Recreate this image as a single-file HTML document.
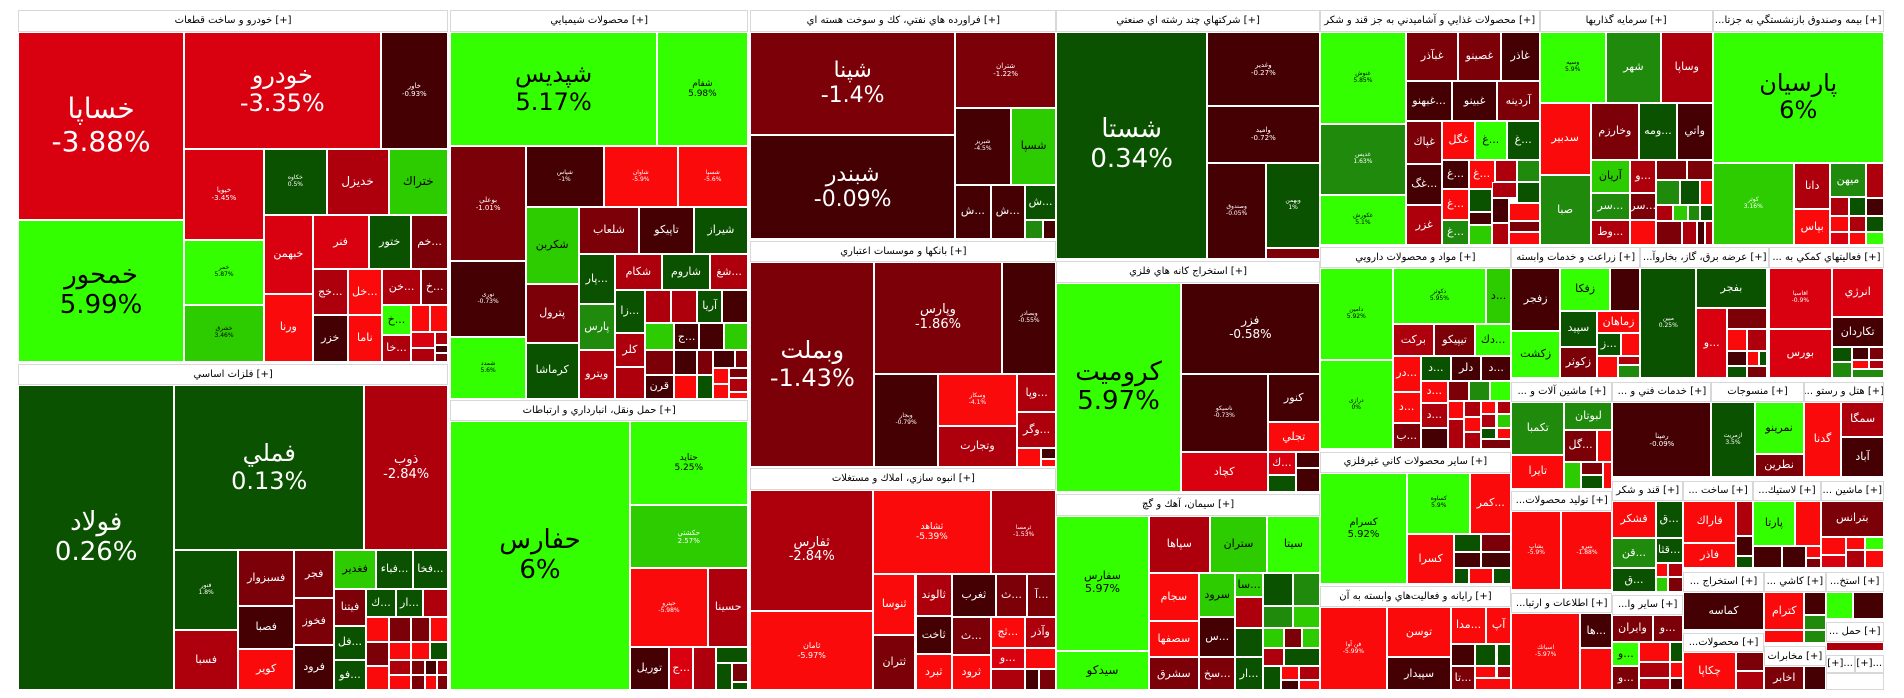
<!DOCTYPE html>
<html><head><meta charset="utf-8">
<style>
html,body{margin:0;padding:0;background:#fff;}
body{width:1904px;height:698px;position:relative;overflow:hidden;font-family:"DejaVu Sans","Liberation Sans",sans-serif;}
.c{position:absolute;box-sizing:border-box;border:1px solid #fff;left:calc(var(--a)*0.6071px);top:calc(var(--b)*0.4503px);width:calc((var(--c) - var(--a))*0.6071px);height:calc((var(--d) - var(--b))*0.4503px);display:flex;align-items:center;justify-content:center;text-align:center;color:#fff;overflow:hidden;font-size:11px;line-height:1.15;white-space:nowrap}
.h{background:#fff;border:1px solid #d8d8d8;color:#000;font-size:10px}
.r1{background:#fa0a0a}.r2{background:#d9000f}.r3{background:#ad000c}.r4{background:#7c0008}.r5{background:#450004}
.g1{background:#33ff00;color:#000}.g2{background:#2ccc00;color:#000}.g3{background:#1f8a0c}.g4{background:#0b5200}
.s{font-size:7px}.t{font-size:6px}
</style></head><body>
<!-- Column 1 -->
<div class="c h" style="--a:30;--b:22;--c:738;--d:70">خودرو و ساخت قطعات [+]</div>
<div class="c r2" style="--a:30;--b:70;--c:303;--d:488;font-size:28px">خساپا<br>-3.88%</div>
<div class="c g1" style="--a:30;--b:488;--c:303;--d:803;font-size:26px">خمحور<br>5.99%</div>
<div class="c r2" style="--a:303;--b:70;--c:627;--d:330;font-size:24px">خودرو<br>-3.35%</div>
<div class="c r5 s" style="--a:627;--b:70;--c:738;--d:330">خاور<br>-0.93%</div>
<div class="c r2 s" style="--a:303;--b:330;--c:435;--d:532">خپویا<br>-3.45%</div>
<div class="c g1 t" style="--a:303;--b:532;--c:435;--d:677">خمر<br>5.87%</div>
<div class="c g2 t" style="--a:303;--b:677;--c:435;--d:803">خشرق<br>3.46%</div>
<div class="c g4 t" style="--a:435;--b:330;--c:538;--d:478">خکاوه<br>0.5%</div>
<div class="c r3" style="--a:538;--b:330;--c:640;--d:478;font-size:12px">خديزل</div>
<div class="c g2" style="--a:640;--b:330;--c:738;--d:478;font-size:12px">ختراك</div>
<div class="c r2" style="--a:435;--b:478;--c:515;--d:652">خبهمن</div>
<div class="c r1" style="--a:435;--b:652;--c:515;--d:803">ورنا</div>
<div class="c r2" style="--a:515;--b:478;--c:607;--d:597">فنر</div>
<div class="c g4" style="--a:607;--b:478;--c:677;--d:597">ختور</div>
<div class="c r4" style="--a:677;--b:478;--c:738;--d:597">خم...</div>
<div class="c r3" style="--a:515;--b:597;--c:573;--d:700">خج...</div>
<div class="c r1" style="--a:573;--b:597;--c:629;--d:700">خل...</div>
<div class="c r3" style="--a:629;--b:597;--c:694;--d:678">خن...</div>
<div class="c r4" style="--a:694;--b:597;--c:738;--d:678">خ...</div>
<div class="c r5" style="--a:515;--b:700;--c:573;--d:803">خزر</div>
<div class="c r1" style="--a:573;--b:700;--c:629;--d:803">ناما</div>
<div class="c g1" style="--a:629;--b:678;--c:677;--d:745">خ...</div>
<div class="c r3" style="--a:629;--b:745;--c:677;--d:803">خا...</div>
<div class="c r1" style="--a:677;--b:678;--c:708;--d:737"></div>
<div class="c r1" style="--a:708;--b:678;--c:738;--d:737"></div>
<div class="c r2" style="--a:677;--b:737;--c:716;--d:773"></div>
<div class="c r3" style="--a:716;--b:737;--c:738;--d:767"></div>
<div class="c r5" style="--a:716;--b:767;--c:738;--d:785"></div>
<div class="c r3" style="--a:677;--b:773;--c:716;--d:803"></div>
<div class="c r4" style="--a:716;--b:785;--c:738;--d:803"></div>

<div class="c h" style="--a:30;--b:808;--c:738;--d:855">فلزات اساسي [+]</div>
<div class="c g4" style="--a:30;--b:855;--c:287;--d:1533;font-size:26px">فولاد<br>0.26%</div>
<div class="c g4" style="--a:287;--b:855;--c:600;--d:1222;font-size:24px">فملي<br>0.13%</div>
<div class="c r3" style="--a:600;--b:855;--c:738;--d:1222;font-size:13px">ذوب<br>-2.84%</div>
<div class="c g4 t" style="--a:287;--b:1222;--c:392;--d:1398">فنور<br>1.8%</div>
<div class="c r3" style="--a:287;--b:1398;--c:392;--d:1533">فسبا</div>
<div class="c r4" style="--a:392;--b:1222;--c:485;--d:1345">فسبزوار</div>
<div class="c r5" style="--a:392;--b:1345;--c:485;--d:1442">فصبا</div>
<div class="c r1" style="--a:392;--b:1442;--c:485;--d:1533">كوير</div>
<div class="c r4" style="--a:485;--b:1222;--c:550;--d:1328">فجر</div>
<div class="c r4" style="--a:485;--b:1328;--c:550;--d:1432">فخوز</div>
<div class="c r5" style="--a:485;--b:1432;--c:550;--d:1533">فرود</div>
<div class="c g2" style="--a:550;--b:1222;--c:620;--d:1308">فغدير</div>
<div class="c g4" style="--a:620;--b:1222;--c:680;--d:1308">فباء...</div>
<div class="c g4" style="--a:680;--b:1222;--c:738;--d:1308">فخا...</div>
<div class="c r4" style="--a:550;--b:1308;--c:603;--d:1390">فيتنا</div>
<div class="c g4" style="--a:603;--b:1308;--c:652;--d:1370">ك...</div>
<div class="c g4" style="--a:652;--b:1308;--c:697;--d:1370">ار...</div>
<div class="c r3" style="--a:697;--b:1308;--c:738;--d:1370"></div>
<div class="c g4" style="--a:550;--b:1390;--c:603;--d:1465">فل...</div>
<div class="c g4" style="--a:550;--b:1465;--c:603;--d:1533">فو...</div>
<div class="c r1" style="--a:603;--b:1370;--c:640;--d:1425"></div>
<div class="c r4" style="--a:640;--b:1370;--c:677;--d:1425"></div>
<div class="c r4" style="--a:677;--b:1370;--c:708;--d:1425"></div>
<div class="c r1" style="--a:708;--b:1370;--c:738;--d:1425"></div>
<div class="c r4" style="--a:603;--b:1425;--c:640;--d:1480"></div>
<div class="c r1" style="--a:640;--b:1425;--c:677;--d:1465"></div>
<div class="c r1" style="--a:677;--b:1425;--c:708;--d:1465"></div>
<div class="c g4" style="--a:708;--b:1425;--c:738;--d:1465"></div>
<div class="c r3" style="--a:640;--b:1465;--c:677;--d:1500"></div>
<div class="c r4" style="--a:677;--b:1465;--c:700;--d:1500"></div>
<div class="c r5" style="--a:700;--b:1465;--c:720;--d:1500"></div>
<div class="c r3" style="--a:720;--b:1465;--c:738;--d:1500"></div>
<div class="c r1" style="--a:603;--b:1480;--c:640;--d:1533"></div>
<div class="c r1" style="--a:640;--b:1500;--c:677;--d:1533"></div>
<div class="c r4" style="--a:677;--b:1500;--c:700;--d:1533"></div>
<div class="c r1" style="--a:700;--b:1500;--c:720;--d:1533"></div>
<div class="c r4" style="--a:720;--b:1500;--c:738;--d:1533"></div>

<!-- Column 2 -->
<div class="c h" style="--a:742;--b:22;--c:1232;--d:70">محصولات شيميايي [+]</div>
<div class="c g1" style="--a:742;--b:70;--c:1082;--d:325;font-size:24px">شپديس<br>5.17%</div>
<div class="c g1" style="--a:1082;--b:70;--c:1232;--d:325;font-size:9px">شفام<br>5.98%</div>
<div class="c r4 s" style="--a:742;--b:325;--c:866;--d:580">بوعلي<br>-1.01%</div>
<div class="c r5 t" style="--a:742;--b:580;--c:866;--d:748">نوری<br>-0.73%</div>
<div class="c g1 t" style="--a:742;--b:748;--c:866;--d:885">شمدد<br>5.6%</div>
<div class="c r5 t" style="--a:866;--b:325;--c:995;--d:460">شپاس<br>-1%</div>
<div class="c r1 t" style="--a:995;--b:325;--c:1116;--d:460">شاوان<br>-5.9%</div>
<div class="c r1 t" style="--a:1116;--b:325;--c:1232;--d:460">شسپا<br>-5.6%</div>
<div class="c g2" style="--a:866;--b:460;--c:953;--d:630">شكربن</div>
<div class="c r4" style="--a:953;--b:460;--c:1053;--d:565">شلعاب</div>
<div class="c r5" style="--a:1053;--b:460;--c:1143;--d:565">تاپيكو</div>
<div class="c g4" style="--a:1143;--b:460;--c:1232;--d:565">شيراز</div>
<div class="c r4" style="--a:866;--b:630;--c:953;--d:762">پترول</div>
<div class="c g4" style="--a:866;--b:762;--c:953;--d:885">كرماشا</div>
<div class="c g4" style="--a:953;--b:565;--c:1013;--d:675">پار...</div>
<div class="c g3" style="--a:953;--b:675;--c:1013;--d:778">پارس</div>
<div class="c r3" style="--a:953;--b:778;--c:1013;--d:885">ويترو</div>
<div class="c r3" style="--a:1013;--b:565;--c:1090;--d:643">شكام</div>
<div class="c g4" style="--a:1090;--b:565;--c:1170;--d:643">شاروم</div>
<div class="c r3" style="--a:1170;--b:565;--c:1232;--d:643">شغ...</div>
<div class="c g4" style="--a:1013;--b:643;--c:1062;--d:740">زا...</div>
<div class="c r3" style="--a:1013;--b:740;--c:1062;--d:815">كلر</div>
<div class="c r3" style="--a:1013;--b:815;--c:1062;--d:885"></div>
<div class="c r3" style="--a:1062;--b:643;--c:1105;--d:718"></div>
<div class="c r3" style="--a:1105;--b:643;--c:1148;--d:718"></div>
<div class="c g4" style="--a:1148;--b:643;--c:1190;--d:718">آريا</div>
<div class="c r5" style="--a:1190;--b:643;--c:1232;--d:718"></div>
<div class="c g2" style="--a:1062;--b:718;--c:1110;--d:778"></div>
<div class="c r5" style="--a:1110;--b:718;--c:1152;--d:778">ج...</div>
<div class="c r5" style="--a:1152;--b:718;--c:1192;--d:778"></div>
<div class="c g2" style="--a:1192;--b:718;--c:1232;--d:778"></div>
<div class="c r4" style="--a:1062;--b:778;--c:1110;--d:832"></div>
<div class="c r5" style="--a:1110;--b:778;--c:1148;--d:832"></div>
<div class="c r4" style="--a:1148;--b:778;--c:1175;--d:832"></div>
<div class="c r5" style="--a:1175;--b:778;--c:1210;--d:818"></div>
<div class="c r4" style="--a:1210;--b:778;--c:1232;--d:818"></div>
<div class="c r5" style="--a:1062;--b:832;--c:1110;--d:885">قرن</div>
<div class="c r1" style="--a:1110;--b:832;--c:1148;--d:885"></div>
<div class="c g4" style="--a:1148;--b:832;--c:1175;--d:885"></div>
<div class="c r1" style="--a:1175;--b:818;--c:1200;--d:852"></div>
<div class="c r4" style="--a:1200;--b:818;--c:1232;--d:840"></div>
<div class="c r3" style="--a:1200;--b:840;--c:1232;--d:870"></div>
<div class="c r1" style="--a:1175;--b:852;--c:1200;--d:885"></div>
<div class="c r1" style="--a:1200;--b:870;--c:1232;--d:885"></div>

<div class="c h" style="--a:742;--b:888;--c:1232;--d:935">حمل ونقل، انبارداري و ارتباطات [+]</div>
<div class="c g1" style="--a:742;--b:935;--c:1037;--d:1533;font-size:26px">حفارس<br>6%</div>
<div class="c g1" style="--a:1037;--b:935;--c:1232;--d:1122;font-size:9px">حتايد<br>5.25%</div>
<div class="c g2 s" style="--a:1037;--b:1122;--c:1232;--d:1262;color:#fff">حكشتي<br>2.57%</div>
<div class="c r1 t" style="--a:1037;--b:1262;--c:1167;--d:1437">حپترو<br>-5.98%</div>
<div class="c r3" style="--a:1167;--b:1262;--c:1232;--d:1437">حسينا</div>
<div class="c r5" style="--a:1037;--b:1437;--c:1102;--d:1533">توريل</div>
<div class="c r2" style="--a:1102;--b:1437;--c:1142;--d:1533">ج...</div>
<div class="c r3" style="--a:1142;--b:1437;--c:1180;--d:1533"></div>
<div class="c g4" style="--a:1180;--b:1437;--c:1232;--d:1472"></div>
<div class="c g4" style="--a:1180;--b:1472;--c:1205;--d:1533"></div>
<div class="c r4" style="--a:1205;--b:1472;--c:1232;--d:1515"></div>
<div class="c g4" style="--a:1205;--b:1515;--c:1232;--d:1533"></div>

<!-- Column 3 -->
<div class="c h" style="--a:1236;--b:22;--c:1740;--d:70">فراورده هاي نفتي، كك و سوخت هسته اي [+]</div>
<div class="c r4" style="--a:1236;--b:70;--c:1573;--d:300;font-size:22px">شپنا<br>-1.4%</div>
<div class="c r5" style="--a:1236;--b:300;--c:1573;--d:530;font-size:22px">شبندر<br>-0.09%</div>
<div class="c r4 s" style="--a:1573;--b:70;--c:1740;--d:240">شتران<br>-1.22%</div>
<div class="c r5 t" style="--a:1573;--b:240;--c:1665;--d:410">شبريز<br>-4.5%</div>
<div class="c g2" style="--a:1665;--b:240;--c:1740;--d:410">شسپا</div>
<div class="c r5" style="--a:1573;--b:410;--c:1632;--d:530">ش...</div>
<div class="c r5" style="--a:1632;--b:410;--c:1688;--d:530">ش...</div>
<div class="c g4" style="--a:1688;--b:410;--c:1740;--d:488">ش...</div>
<div class="c g3" style="--a:1688;--b:488;--c:1718;--d:530"></div>
<div class="c r5" style="--a:1718;--b:488;--c:1740;--d:530"></div>
<div class="c h" style="--a:1236;--b:535;--c:1740;--d:582">بانكها و موسسات اعتباري [+]</div>
<div class="c r4" style="--a:1236;--b:582;--c:1440;--d:1037;font-size:24px">وبملت<br>-1.43%</div>
<div class="c r4" style="--a:1440;--b:582;--c:1650;--d:830;font-size:13px">وپارس<br>-1.86%</div>
<div class="c r5 t" style="--a:1650;--b:582;--c:1740;--d:830">وبصادر<br>-0.55%</div>
<div class="c r5 t" style="--a:1440;--b:830;--c:1545;--d:1037">وبجار<br>-0.79%</div>
<div class="c r1 t" style="--a:1545;--b:830;--c:1675;--d:947">وسكار<br>-4.1%</div>
<div class="c r3" style="--a:1675;--b:830;--c:1740;--d:915">وپا...</div>
<div class="c r3" style="--a:1675;--b:915;--c:1740;--d:995">وگر...</div>
<div class="c r3" style="--a:1545;--b:947;--c:1675;--d:1037">وتجارت</div>
<div class="c r1" style="--a:1675;--b:995;--c:1715;--d:1037"></div>
<div class="c r5" style="--a:1715;--b:995;--c:1740;--d:1020"></div>
<div class="c r1" style="--a:1715;--b:1020;--c:1740;--d:1037"></div>
<div class="c h" style="--a:1236;--b:1040;--c:1740;--d:1088">انبوه سازي، املاك و مستغلات [+]</div>
<div class="c r3" style="--a:1236;--b:1088;--c:1438;--d:1357;font-size:13px">ثفارس<br>-2.84%</div>
<div class="c r1 s" style="--a:1236;--b:1357;--c:1438;--d:1533;font-size:8px">ثامان<br>-5.97%</div>
<div class="c r1" style="--a:1438;--b:1088;--c:1632;--d:1275;font-size:9px">ثشاهد<br>-5.39%</div>
<div class="c r3 t" style="--a:1632;--b:1088;--c:1740;--d:1275">ثرمسا<br>-1.53%</div>
<div class="c r1" style="--a:1438;--b:1275;--c:1508;--d:1410">ثنوسا</div>
<div class="c r3" style="--a:1508;--b:1275;--c:1568;--d:1368">ثالوند</div>
<div class="c r5" style="--a:1508;--b:1368;--c:1568;--d:1452">ثاخت</div>
<div class="c r4" style="--a:1438;--b:1410;--c:1508;--d:1533">ثتران</div>
<div class="c r1" style="--a:1508;--b:1452;--c:1568;--d:1533">ثبرد</div>
<div class="c r5" style="--a:1568;--b:1275;--c:1640;--d:1370">ثغرب</div>
<div class="c r4" style="--a:1640;--b:1275;--c:1692;--d:1370">ث...</div>
<div class="c r4" style="--a:1692;--b:1275;--c:1740;--d:1370">آ...</div>
<div class="c r4" style="--a:1568;--b:1370;--c:1632;--d:1455">ث...</div>
<div class="c r1" style="--a:1632;--b:1370;--c:1688;--d:1440">ثج...</div>
<div class="c r3" style="--a:1688;--b:1370;--c:1740;--d:1440">وآذر</div>
<div class="c r1" style="--a:1568;--b:1455;--c:1632;--d:1533">ثرود</div>
<div class="c r2" style="--a:1632;--b:1440;--c:1688;--d:1485">و...</div>
<div class="c r1" style="--a:1688;--b:1440;--c:1740;--d:1485"></div>
<div class="c r3" style="--a:1632;--b:1485;--c:1688;--d:1533"></div>
<div class="c r5" style="--a:1688;--b:1485;--c:1712;--d:1533"></div>
<div class="c r4" style="--a:1712;--b:1485;--c:1740;--d:1533"></div>

<!-- Column 4 -->
<div class="c h" style="--a:1740;--b:22;--c:2174;--d:70">شركتهاي چند رشته اي صنعتي [+]</div>
<div class="c g4" style="--a:1740;--b:70;--c:1988;--d:575;font-size:26px">شستا<br>0.34%</div>
<div class="c r5 s" style="--a:1988;--b:70;--c:2174;--d:235">وغدير<br>-0.27%</div>
<div class="c r5 s" style="--a:1988;--b:235;--c:2174;--d:362">واميد<br>-0.72%</div>
<div class="c r5 t" style="--a:1988;--b:362;--c:2086;--d:575">وصندوق<br>-0.05%</div>
<div class="c g4 t" style="--a:2086;--b:362;--c:2174;--d:550">وبهمن<br>1%</div>
<div class="c r4" style="--a:2086;--b:550;--c:2174;--d:575"></div>
<div class="c h" style="--a:1740;--b:580;--c:2174;--d:628">استخراج كانه هاي فلزي [+]</div>
<div class="c g1" style="--a:1740;--b:628;--c:1945;--d:1093;font-size:26px">كروميت<br>5.97%</div>
<div class="c r5" style="--a:1945;--b:628;--c:2174;--d:830;font-size:12px">فزر<br>-0.58%</div>
<div class="c r5 t" style="--a:1945;--b:830;--c:2088;--d:1003">ناسيكو<br>-0.73%</div>
<div class="c r5" style="--a:2088;--b:830;--c:2174;--d:938">كنور</div>
<div class="c r1" style="--a:2088;--b:938;--c:2174;--d:1003">تجلي</div>
<div class="c r2" style="--a:1945;--b:1003;--c:2088;--d:1093">كچاد</div>
<div class="c r2" style="--a:2088;--b:1003;--c:2135;--d:1055">ك...</div>
<div class="c r5" style="--a:2135;--b:1003;--c:2174;--d:1040"></div>
<div class="c g4" style="--a:2088;--b:1055;--c:2135;--d:1093"></div>
<div class="c r5" style="--a:2135;--b:1040;--c:2174;--d:1093"></div>
<div class="c h" style="--a:1740;--b:1097;--c:2174;--d:1145">سيمان، آهك و گچ [+]</div>
<div class="c g1" style="--a:1740;--b:1145;--c:1892;--d:1445;font-size:11px">سفارس<br>5.97%</div>
<div class="c g1" style="--a:1740;--b:1445;--c:1892;--d:1533;font-size:12px">سيدكو</div>
<div class="c r3" style="--a:1892;--b:1145;--c:1993;--d:1273">سپاها</div>
<div class="c g2" style="--a:1993;--b:1145;--c:2087;--d:1273">ستران</div>
<div class="c g1" style="--a:2087;--b:1145;--c:2174;--d:1273">سيتا</div>
<div class="c r1" style="--a:1892;--b:1273;--c:1975;--d:1378">سجام</div>
<div class="c r1" style="--a:1892;--b:1378;--c:1975;--d:1460">سصفها</div>
<div class="c r4" style="--a:1892;--b:1460;--c:1975;--d:1533">سشرق</div>
<div class="c g2" style="--a:1975;--b:1273;--c:2035;--d:1370">سرود</div>
<div class="c g2" style="--a:2035;--b:1273;--c:2080;--d:1325">سا...</div>
<div class="c g4" style="--a:2080;--b:1273;--c:2130;--d:1345"></div>
<div class="c g3" style="--a:2130;--b:1273;--c:2174;--d:1345"></div>
<div class="c r5" style="--a:1975;--b:1370;--c:2035;--d:1460">س...</div>
<div class="c r4" style="--a:1975;--b:1460;--c:2035;--d:1533">سخ...</div>
<div class="c r3" style="--a:2035;--b:1325;--c:2080;--d:1395"></div>
<div class="c g4" style="--a:2035;--b:1395;--c:2080;--d:1460"></div>
<div class="c g4" style="--a:2035;--b:1460;--c:2080;--d:1533">ار...</div>
<div class="c g3" style="--a:2080;--b:1345;--c:2130;--d:1395"></div>
<div class="c g2" style="--a:2130;--b:1345;--c:2174;--d:1395"></div>
<div class="c g2" style="--a:2080;--b:1395;--c:2115;--d:1440"></div>
<div class="c r4" style="--a:2115;--b:1395;--c:2145;--d:1440"></div>
<div class="c g2" style="--a:2145;--b:1395;--c:2174;--d:1440"></div>
<div class="c r3" style="--a:2080;--b:1440;--c:2115;--d:1480"></div>
<div class="c g4" style="--a:2115;--b:1440;--c:2174;--d:1480"></div>
<div class="c g4" style="--a:2080;--b:1480;--c:2110;--d:1533"></div>
<div class="c r1" style="--a:2110;--b:1480;--c:2140;--d:1510"></div>
<div class="c r3" style="--a:2140;--b:1480;--c:2174;--d:1510"></div>
<div class="c r5" style="--a:2110;--b:1510;--c:2140;--d:1533"></div>
<div class="c r1" style="--a:2140;--b:1510;--c:2174;--d:1533"></div>

<!-- Column 5 food -->
<div class="c h" style="--a:2174;--b:22;--c:2536;--d:70">محصولات غذايي و آشاميدني به جز قند و شكر [+]</div>
<div class="c g1 t" style="--a:2174;--b:70;--c:2316;--d:275">غنوش<br>5.85%</div>
<div class="c g3 t" style="--a:2174;--b:275;--c:2316;--d:432">غدیس<br>1.63%</div>
<div class="c g1 t" style="--a:2174;--b:432;--c:2316;--d:545">غکورش<br>5.1%</div>
<div class="c r4" style="--a:2316;--b:70;--c:2402;--d:180">غبآذر</div>
<div class="c r4" style="--a:2402;--b:70;--c:2472;--d:180">غصينو</div>
<div class="c r5" style="--a:2472;--b:70;--c:2536;--d:180">غاذر</div>
<div class="c r5" style="--a:2316;--b:180;--c:2392;--d:268">غبهنو...</div>
<div class="c r5" style="--a:2392;--b:180;--c:2466;--d:268">غبينو</div>
<div class="c r4" style="--a:2466;--b:180;--c:2536;--d:268">آردينه</div>
<div class="c r4" style="--a:2316;--b:268;--c:2376;--d:365">غپاك</div>
<div class="c r1" style="--a:2376;--b:268;--c:2429;--d:355">غگل</div>
<div class="c g1" style="--a:2429;--b:268;--c:2482;--d:355">غ...</div>
<div class="c g4" style="--a:2482;--b:268;--c:2536;--d:355">غ...</div>
<div class="c r5" style="--a:2316;--b:365;--c:2376;--d:455">غگ...</div>
<div class="c r3" style="--a:2316;--b:455;--c:2376;--d:545">غزر</div>
<div class="c r5" style="--a:2376;--b:355;--c:2419;--d:420">غ...</div>
<div class="c r1" style="--a:2419;--b:355;--c:2462;--d:420">غ...</div>
<div class="c r3" style="--a:2462;--b:355;--c:2498;--d:405"></div>
<div class="c g3" style="--a:2498;--b:355;--c:2536;--d:405"></div>
<div class="c r1" style="--a:2376;--b:420;--c:2419;--d:488">غ...</div>
<div class="c g3" style="--a:2376;--b:488;--c:2419;--d:545">غ...</div>
<div class="c g4" style="--a:2419;--b:420;--c:2458;--d:470"></div>
<div class="c r3" style="--a:2458;--b:405;--c:2498;--d:440"></div>
<div class="c g4" style="--a:2498;--b:405;--c:2536;--d:450"></div>
<div class="c r5" style="--a:2458;--b:440;--c:2485;--d:495"></div>
<div class="c r1" style="--a:2485;--b:450;--c:2536;--d:490"></div>
<div class="c r5" style="--a:2419;--b:470;--c:2458;--d:500"></div>
<div class="c g2" style="--a:2419;--b:500;--c:2458;--d:545"></div>
<div class="c r3" style="--a:2458;--b:495;--c:2485;--d:545"></div>
<div class="c r4" style="--a:2485;--b:490;--c:2536;--d:515"></div>
<div class="c r1" style="--a:2485;--b:515;--c:2536;--d:545"></div>

<!-- Column 6 -->
<div class="c h" style="--a:2536;--b:22;--c:2821;--d:70">سرمايه گذاريها [+]</div>
<div class="c g1 t" style="--a:2536;--b:70;--c:2645;--d:228">وسپه<br>5.9%</div>
<div class="c g3" style="--a:2645;--b:70;--c:2736;--d:228">شهر</div>
<div class="c r3" style="--a:2736;--b:70;--c:2821;--d:228">وساپا</div>
<div class="c r1" style="--a:2536;--b:228;--c:2620;--d:388">سدبير</div>
<div class="c g3" style="--a:2536;--b:388;--c:2620;--d:545">صبا</div>
<div class="c r4" style="--a:2620;--b:228;--c:2700;--d:355">وخارزم</div>
<div class="c g4" style="--a:2700;--b:228;--c:2762;--d:355">ومه...</div>
<div class="c r5" style="--a:2762;--b:228;--c:2821;--d:355">واتي</div>
<div class="c g2" style="--a:2620;--b:355;--c:2685;--d:428">آريان</div>
<div class="c g3" style="--a:2620;--b:428;--c:2685;--d:488">سر...</div>
<div class="c r3" style="--a:2620;--b:488;--c:2685;--d:545">وط...</div>
<div class="c r3" style="--a:2685;--b:355;--c:2728;--d:428">و...</div>
<div class="c r4" style="--a:2685;--b:428;--c:2728;--d:488">سر...</div>
<div class="c r1" style="--a:2685;--b:488;--c:2728;--d:545"></div>
<div class="c r4" style="--a:2728;--b:355;--c:2778;--d:400"></div>
<div class="c r4" style="--a:2778;--b:355;--c:2821;--d:400"></div>
<div class="c g3" style="--a:2728;--b:400;--c:2768;--d:455"></div>
<div class="c g4" style="--a:2768;--b:400;--c:2800;--d:455"></div>
<div class="c r1" style="--a:2800;--b:400;--c:2821;--d:455"></div>
<div class="c r3" style="--a:2728;--b:455;--c:2755;--d:490"></div>
<div class="c g2" style="--a:2755;--b:455;--c:2780;--d:490"></div>
<div class="c g3" style="--a:2780;--b:455;--c:2800;--d:490"></div>
<div class="c g4" style="--a:2800;--b:455;--c:2821;--d:490"></div>
<div class="c r4" style="--a:2728;--b:490;--c:2770;--d:545"></div>
<div class="c r3" style="--a:2770;--b:490;--c:2795;--d:545"></div>
<div class="c r5" style="--a:2795;--b:490;--c:2808;--d:545"></div>
<div class="c r3" style="--a:2808;--b:490;--c:2821;--d:545"></div>

<!-- Column 7 -->
<div class="c h" style="--a:2821;--b:22;--c:3103;--d:70">...بيمه وصندوق بازنشستگي به جزتا [+]</div>
<div class="c g1" style="--a:2821;--b:70;--c:3103;--d:362;font-size:24px">پارسيان<br>6%</div>
<div class="c g2 t" style="--a:2821;--b:362;--c:2955;--d:545;color:#fff">كوثر<br>3.16%</div>
<div class="c r3" style="--a:2955;--b:362;--c:3015;--d:465">دانا</div>
<div class="c g3" style="--a:3015;--b:362;--c:3073;--d:438">ميهن</div>
<div class="c r3" style="--a:3073;--b:362;--c:3103;--d:440"></div>
<div class="c r1" style="--a:2955;--b:465;--c:3015;--d:545">بپاس</div>
<div class="c r3" style="--a:3015;--b:438;--c:3045;--d:480"></div>
<div class="c g4" style="--a:3045;--b:438;--c:3073;--d:480"></div>
<div class="c r5" style="--a:3073;--b:440;--c:3103;--d:480"></div>
<div class="c r1" style="--a:3015;--b:480;--c:3045;--d:515"></div>
<div class="c r3" style="--a:3045;--b:480;--c:3073;--d:515"></div>
<div class="c g4" style="--a:3073;--b:480;--c:3103;--d:515"></div>
<div class="c r2" style="--a:3015;--b:515;--c:3045;--d:545"></div>
<div class="c r1" style="--a:3045;--b:515;--c:3073;--d:545"></div>
<div class="c g1" style="--a:3073;--b:515;--c:3103;--d:545"></div>

<!-- Row 2 right -->
<div class="c h" style="--a:2174;--b:548;--c:2489;--d:595">مواد و محصولات دارويي [+]</div>
<div class="c g1 t" style="--a:2174;--b:595;--c:2294;--d:800">دامین<br>5.92%</div>
<div class="c g1 t" style="--a:2174;--b:800;--c:2294;--d:998">درازی<br>0%</div>
<div class="c g1 t" style="--a:2294;--b:595;--c:2448;--d:720">دكوثر<br>5.95%</div>
<div class="c g2" style="--a:2448;--b:595;--c:2489;--d:720">د...</div>
<div class="c r3" style="--a:2294;--b:720;--c:2362;--d:790">بركت</div>
<div class="c r4" style="--a:2362;--b:720;--c:2430;--d:790">تيپيكو</div>
<div class="c g1" style="--a:2430;--b:720;--c:2489;--d:790">دك...</div>
<div class="c r1" style="--a:2294;--b:790;--c:2340;--d:870">در...</div>
<div class="c r1" style="--a:2294;--b:870;--c:2340;--d:940">د...</div>
<div class="c r4" style="--a:2294;--b:940;--c:2340;--d:998">ب...</div>
<div class="c g4" style="--a:2340;--b:790;--c:2390;--d:845">د...</div>
<div class="c r5" style="--a:2390;--b:790;--c:2440;--d:845">دلر</div>
<div class="c r5" style="--a:2440;--b:790;--c:2489;--d:845">د...</div>
<div class="c r1" style="--a:2340;--b:845;--c:2385;--d:895">د...</div>
<div class="c r3" style="--a:2340;--b:895;--c:2385;--d:950">د...</div>
<div class="c r5" style="--a:2340;--b:950;--c:2385;--d:998"></div>
<div class="c r4" style="--a:2385;--b:845;--c:2420;--d:890"></div>
<div class="c g3" style="--a:2420;--b:845;--c:2455;--d:890"></div>
<div class="c g1" style="--a:2455;--b:845;--c:2489;--d:890"></div>
<div class="c r1" style="--a:2385;--b:890;--c:2412;--d:930"></div>
<div class="c r3" style="--a:2412;--b:890;--c:2440;--d:925"></div>
<div class="c r1" style="--a:2440;--b:890;--c:2465;--d:920"></div>
<div class="c r3" style="--a:2465;--b:890;--c:2489;--d:920"></div>
<div class="c r3" style="--a:2385;--b:930;--c:2412;--d:998"></div>
<div class="c r1" style="--a:2412;--b:925;--c:2440;--d:960"></div>
<div class="c r3" style="--a:2440;--b:920;--c:2465;--d:950"></div>
<div class="c g2" style="--a:2465;--b:920;--c:2489;--d:950"></div>
<div class="c r3" style="--a:2412;--b:960;--c:2440;--d:998"></div>
<div class="c g4" style="--a:2440;--b:950;--c:2465;--d:975"></div>
<div class="c r1" style="--a:2465;--b:950;--c:2489;--d:975"></div>
<div class="c r4" style="--a:2440;--b:975;--c:2489;--d:998"></div>

<div class="c h" style="--a:2489;--b:548;--c:2702;--d:595">زراعت و خدمات وابسته [+]</div>
<div class="c r5" style="--a:2489;--b:595;--c:2570;--d:735">زفجر</div>
<div class="c g1" style="--a:2489;--b:735;--c:2570;--d:840">زكشت</div>
<div class="c g1" style="--a:2570;--b:595;--c:2652;--d:690">زفكا</div>
<div class="c r5" style="--a:2652;--b:595;--c:2702;--d:690"></div>
<div class="c g4" style="--a:2570;--b:690;--c:2630;--d:770">سپيد</div>
<div class="c r1" style="--a:2630;--b:690;--c:2702;--d:740">زماهان</div>
<div class="c r4" style="--a:2570;--b:770;--c:2630;--d:840">زكوثر</div>
<div class="c g4" style="--a:2630;--b:740;--c:2670;--d:790">ز...</div>
<div class="c r1" style="--a:2670;--b:740;--c:2702;--d:790"></div>
<div class="c r1" style="--a:2630;--b:790;--c:2665;--d:840"></div>
<div class="c r3" style="--a:2665;--b:790;--c:2702;--d:810"></div>
<div class="c g3" style="--a:2665;--b:810;--c:2702;--d:840"></div>

<div class="c h" style="--a:2702;--b:548;--c:2914;--d:595">...عرضه برق، گاز، بخاروآ [+]</div>
<div class="c g4 t" style="--a:2702;--b:595;--c:2794;--d:840">مبين<br>0.25%</div>
<div class="c g4" style="--a:2794;--b:595;--c:2910;--d:685">بفجر</div>
<div class="c r2" style="--a:2794;--b:685;--c:2845;--d:840">و...</div>
<div class="c r4" style="--a:2845;--b:685;--c:2910;--d:730"></div>
<div class="c r1" style="--a:2845;--b:730;--c:2878;--d:780"></div>
<div class="c r3" style="--a:2878;--b:730;--c:2910;--d:780"></div>
<div class="c r5" style="--a:2845;--b:780;--c:2878;--d:812"></div>
<div class="c r1" style="--a:2878;--b:780;--c:2897;--d:812"></div>
<div class="c g4" style="--a:2897;--b:780;--c:2910;--d:812"></div>
<div class="c g4" style="--a:2845;--b:812;--c:2878;--d:840"></div>
<div class="c r4" style="--a:2878;--b:812;--c:2910;--d:840"></div>

<div class="c h" style="--a:2914;--b:548;--c:3103;--d:595">... فعاليتهاي كمكي به [+]</div>
<div class="c r2 t" style="--a:2914;--b:595;--c:3017;--d:730">افاسيا<br>-0.9%</div>
<div class="c r2" style="--a:3017;--b:595;--c:3103;--d:705">انرژي</div>
<div class="c r5" style="--a:3017;--b:705;--c:3103;--d:770">تكاردان</div>
<div class="c r2" style="--a:2914;--b:730;--c:3017;--d:840">بورس</div>
<div class="c g4" style="--a:3017;--b:770;--c:3050;--d:805"></div>
<div class="c r5" style="--a:3050;--b:770;--c:3078;--d:800"></div>
<div class="c r4" style="--a:3078;--b:770;--c:3103;--d:800"></div>
<div class="c g3" style="--a:3017;--b:805;--c:3050;--d:840"></div>
<div class="c r1" style="--a:3050;--b:800;--c:3078;--d:820"></div>
<div class="c r3" style="--a:3078;--b:800;--c:3103;--d:820"></div>
<div class="c g3" style="--a:3050;--b:820;--c:3103;--d:840"></div>

<!-- Row 3 right -->
<div class="c h" style="--a:2174;--b:1003;--c:2489;--d:1050">ساير محصولات كاني غيرفلزي [+]</div>
<div class="c g1" style="--a:2174;--b:1050;--c:2318;--d:1298;font-size:10px">كسرام<br>5.92%</div>
<div class="c g1 t" style="--a:2318;--b:1050;--c:2422;--d:1185">كساوه<br>5.9%</div>
<div class="c r1" style="--a:2422;--b:1050;--c:2489;--d:1185">كمر...</div>
<div class="c r1" style="--a:2318;--b:1185;--c:2395;--d:1298">كسرا</div>
<div class="c g4" style="--a:2395;--b:1185;--c:2440;--d:1225"></div>
<div class="c r4" style="--a:2440;--b:1185;--c:2489;--d:1225"></div>
<div class="c r5" style="--a:2395;--b:1225;--c:2440;--d:1262"></div>
<div class="c r5" style="--a:2440;--b:1225;--c:2489;--d:1262"></div>
<div class="c g4" style="--a:2395;--b:1262;--c:2420;--d:1298"></div>
<div class="c r1" style="--a:2420;--b:1262;--c:2460;--d:1298"></div>
<div class="c g4" style="--a:2460;--b:1262;--c:2489;--d:1298"></div>

<div class="c h" style="--a:2174;--b:1302;--c:2489;--d:1348">رايانه و فعاليت‌هاي وابسته به آن [+]</div>
<div class="c r1 t" style="--a:2174;--b:1348;--c:2285;--d:1533">فن آوا<br>-5.99%</div>
<div class="c r1" style="--a:2285;--b:1348;--c:2390;--d:1460">توسن</div>
<div class="c r5" style="--a:2285;--b:1460;--c:2390;--d:1533">سپيدار</div>
<div class="c r1" style="--a:2390;--b:1348;--c:2448;--d:1430">مدا...</div>
<div class="c r1" style="--a:2448;--b:1348;--c:2489;--d:1430">آپ</div>
<div class="c r5" style="--a:2390;--b:1430;--c:2430;--d:1480"></div>
<div class="c g4" style="--a:2430;--b:1430;--c:2465;--d:1480"></div>
<div class="c g4" style="--a:2465;--b:1430;--c:2489;--d:1480"></div>
<div class="c r4" style="--a:2390;--b:1480;--c:2430;--d:1533">تا...</div>
<div class="c r1" style="--a:2430;--b:1480;--c:2465;--d:1505"></div>
<div class="c r3" style="--a:2465;--b:1480;--c:2489;--d:1505"></div>
<div class="c r1" style="--a:2430;--b:1505;--c:2489;--d:1533"></div>

<div class="c h" style="--a:2489;--b:848;--c:2656;--d:893">... ماشين آلات و [+]</div>
<div class="c g3" style="--a:2489;--b:893;--c:2577;--d:1010">تكمبا</div>
<div class="c r1" style="--a:2489;--b:1010;--c:2577;--d:1085">تايرا</div>
<div class="c g3" style="--a:2577;--b:893;--c:2656;--d:955">لبوتان</div>
<div class="c r4" style="--a:2577;--b:955;--c:2630;--d:1025">گل...</div>
<div class="c r1" style="--a:2630;--b:955;--c:2656;--d:1025"></div>
<div class="c g2" style="--a:2577;--b:1025;--c:2605;--d:1085"></div>
<div class="c r4" style="--a:2605;--b:1025;--c:2640;--d:1055"></div>
<div class="c g4" style="--a:2605;--b:1055;--c:2640;--d:1085"></div>
<div class="c r1" style="--a:2640;--b:1025;--c:2656;--d:1085"></div>

<div class="c h" style="--a:2656;--b:848;--c:2819;--d:893">... خدمات فني و [+]</div>
<div class="c r5 s" style="--a:2656;--b:893;--c:2819;--d:1060">رمپنا<br>-0.09%</div>
<div class="c h" style="--a:2819;--b:848;--c:2971;--d:893">منسوجات [+]</div>
<div class="c g4 t" style="--a:2819;--b:893;--c:2890;--d:1060">ازمريت<br>3.5%</div>
<div class="c g1" style="--a:2890;--b:893;--c:2971;--d:1008">نمرينو</div>
<div class="c r4" style="--a:2890;--b:1008;--c:2971;--d:1060">نطرين</div>
<div class="c h" style="--a:2971;--b:848;--c:3103;--d:893">... هتل و رستو [+]</div>
<div class="c r1" style="--a:2971;--b:893;--c:3033;--d:1060">گدنا</div>
<div class="c r3" style="--a:3033;--b:893;--c:3103;--d:970">سمگا</div>
<div class="c r5" style="--a:3033;--b:970;--c:3103;--d:1060">آباد</div>

<div class="c h" style="--a:2489;--b:1090;--c:2656;--d:1135">...توليد محصولات [+]</div>
<div class="c r1 t" style="--a:2489;--b:1135;--c:2572;--d:1310">بشاپ<br>-5.9%</div>
<div class="c r1 t" style="--a:2572;--b:1135;--c:2656;--d:1310">بنیرو<br>-1.88%</div>
<div class="c h" style="--a:2489;--b:1318;--c:2656;--d:1362">...اطلاعات و ارتبا [+]</div>
<div class="c r1 t" style="--a:2489;--b:1362;--c:2603;--d:1533">اسياتك<br>-5.97%</div>
<div class="c r5" style="--a:2603;--b:1362;--c:2656;--d:1440">ها...</div>
<div class="c r1" style="--a:2603;--b:1440;--c:2656;--d:1533"></div>

<div class="c h" style="--a:2656;--b:1068;--c:2772;--d:1112">قند و شكر [+]</div>
<div class="c r1" style="--a:2656;--b:1112;--c:2727;--d:1195">قشكر</div>
<div class="c g4" style="--a:2727;--b:1112;--c:2772;--d:1195">ق...</div>
<div class="c g3" style="--a:2656;--b:1195;--c:2727;--d:1262">قن...</div>
<div class="c g4" style="--a:2727;--b:1195;--c:2772;--d:1250">قثا...</div>
<div class="c g4" style="--a:2656;--b:1262;--c:2727;--d:1315">ق...</div>
<div class="c r1" style="--a:2727;--b:1250;--c:2748;--d:1282"></div>
<div class="c r3" style="--a:2748;--b:1250;--c:2772;--d:1282"></div>
<div class="c g2" style="--a:2727;--b:1282;--c:2748;--d:1315"></div>
<div class="c r4" style="--a:2748;--b:1282;--c:2772;--d:1315"></div>
<div class="c h" style="--a:2656;--b:1322;--c:2772;--d:1366">...ساير وا [+]</div>
<div class="c r4" style="--a:2656;--b:1366;--c:2722;--d:1425">وايران</div>
<div class="c r4" style="--a:2722;--b:1366;--c:2772;--d:1425">و...</div>
<div class="c g1" style="--a:2656;--b:1425;--c:2700;--d:1480">و...</div>
<div class="c r1" style="--a:2700;--b:1425;--c:2750;--d:1470"></div>
<div class="c g4" style="--a:2750;--b:1425;--c:2772;--d:1470"></div>
<div class="c r4" style="--a:2656;--b:1480;--c:2700;--d:1533">و...</div>
<div class="c r3" style="--a:2700;--b:1470;--c:2750;--d:1505"></div>
<div class="c r1" style="--a:2750;--b:1470;--c:2772;--d:1505"></div>
<div class="c r3" style="--a:2700;--b:1505;--c:2750;--d:1533"></div>
<div class="c r5" style="--a:2750;--b:1505;--c:2772;--d:1533"></div>

<div class="c h" style="--a:2772;--b:1068;--c:2888;--d:1112">... ساخت [+]</div>
<div class="c r1" style="--a:2772;--b:1112;--c:2860;--d:1205">فاراك</div>
<div class="c r1" style="--a:2772;--b:1205;--c:2860;--d:1262">فاذر</div>
<div class="c r3" style="--a:2860;--b:1112;--c:2888;--d:1190"></div>
<div class="c r5" style="--a:2860;--b:1190;--c:2888;--d:1235"></div>
<div class="c g4" style="--a:2860;--b:1235;--c:2888;--d:1262"></div>
<div class="c h" style="--a:2888;--b:1068;--c:2999;--d:1112">...لاستيك [+]</div>
<div class="c g1" style="--a:2888;--b:1112;--c:2956;--d:1212">پارتا</div>
<div class="c r1" style="--a:2956;--b:1112;--c:2999;--d:1212"></div>
<div class="c r5" style="--a:2888;--b:1212;--c:2935;--d:1262"></div>
<div class="c r5" style="--a:2935;--b:1212;--c:2975;--d:1262"></div>
<div class="c r1" style="--a:2975;--b:1212;--c:2999;--d:1240"></div>
<div class="c r4" style="--a:2975;--b:1240;--c:2999;--d:1262"></div>
<div class="c h" style="--a:2999;--b:1068;--c:3103;--d:1112">... ماشين [+]</div>
<div class="c r4" style="--a:2999;--b:1112;--c:3103;--d:1192">بترانس</div>
<div class="c r1" style="--a:2999;--b:1192;--c:3040;--d:1232"></div>
<div class="c r1" style="--a:3040;--b:1192;--c:3072;--d:1222"></div>
<div class="c g1" style="--a:3072;--b:1192;--c:3103;--d:1222"></div>
<div class="c r3" style="--a:3040;--b:1222;--c:3072;--d:1262"></div>
<div class="c r1" style="--a:3072;--b:1222;--c:3103;--d:1262"></div>
<div class="c r2" style="--a:2999;--b:1232;--c:3040;--d:1262"></div>

<div class="c h" style="--a:2772;--b:1270;--c:2906;--d:1315">... استخراج [+]</div>
<div class="c r5" style="--a:2772;--b:1315;--c:2906;--d:1400">كماسه</div>
<div class="c h" style="--a:2772;--b:1405;--c:2906;--d:1448">...محصولات [+]</div>
<div class="c r1" style="--a:2772;--b:1448;--c:2860;--d:1533">چكاپا</div>
<div class="c r4" style="--a:2860;--b:1448;--c:2906;--d:1490"></div>
<div class="c r3" style="--a:2860;--b:1490;--c:2906;--d:1533"></div>
<div class="c h" style="--a:2906;--b:1270;--c:3007;--d:1315">... كاشي [+]</div>
<div class="c r1" style="--a:2906;--b:1315;--c:2972;--d:1400">كترام</div>
<div class="c r5" style="--a:2972;--b:1315;--c:3007;--d:1365"></div>
<div class="c g3" style="--a:2972;--b:1365;--c:3007;--d:1400"></div>
<div class="c r1" style="--a:2906;--b:1400;--c:2972;--d:1428"></div>
<div class="c g3" style="--a:2972;--b:1400;--c:3007;--d:1428"></div>
<div class="c h" style="--a:2906;--b:1435;--c:3007;--d:1480">مخابرات [+]</div>
<div class="c r4" style="--a:2906;--b:1480;--c:2972;--d:1533">اخابر</div>
<div class="c r5" style="--a:2972;--b:1480;--c:3007;--d:1533"></div>
<div class="c h" style="--a:3007;--b:1270;--c:3103;--d:1315">...استخ [+]</div>
<div class="c g1" style="--a:3007;--b:1315;--c:3052;--d:1375"></div>
<div class="c r5" style="--a:3052;--b:1315;--c:3103;--d:1375"></div>
<div class="c h" style="--a:3007;--b:1382;--c:3103;--d:1425">... حمل [+]</div>
<div class="c r3" style="--a:3007;--b:1425;--c:3103;--d:1445"></div>
<div class="c h" style="--a:3007;--b:1455;--c:3055;--d:1495">[+]...</div>
<div class="c h" style="--a:3055;--b:1455;--c:3103;--d:1495">[+]...</div>
<div class="c h" style="--a:3007;--b:1495;--c:3103;--d:1533"></div>
</body></html>
